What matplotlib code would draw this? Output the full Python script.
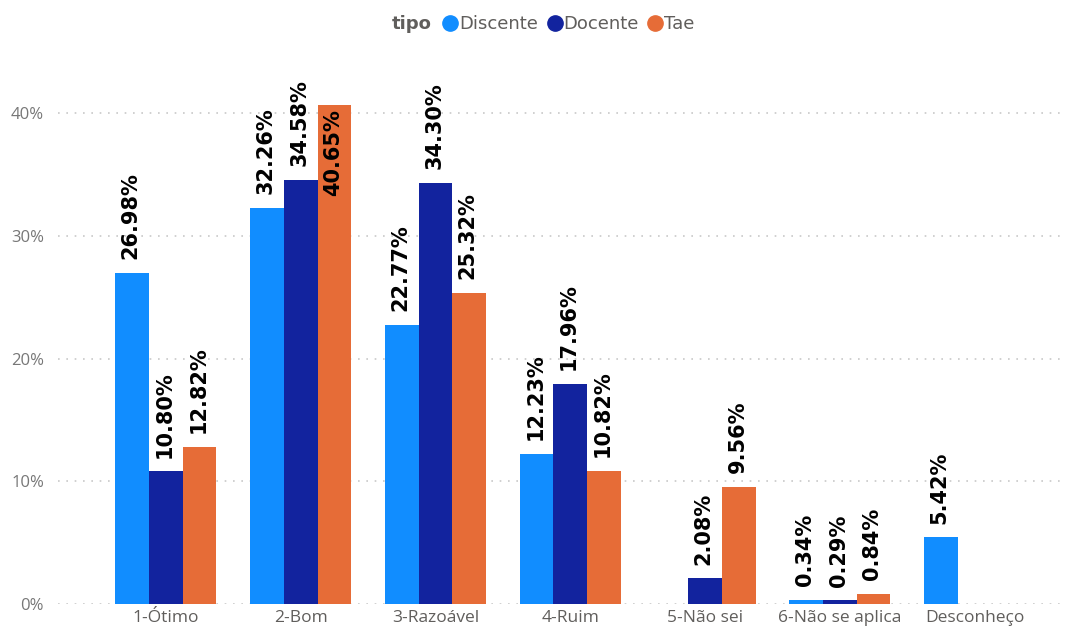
import matplotlib
matplotlib.use("Agg")
import matplotlib.pyplot as plt
from matplotlib.lines import Line2D
from matplotlib.offsetbox import HPacker
import numpy as np

categories = ["1-Ótimo", "2-Bom", "3-Razoável", "4-Ruim", "5-Não sei", "6-Não se aplica", "Desconheço"]
series_names = ["Discente", "Docente", "Tae"]
discente = [26.98, 32.26, 22.77, 12.23, None, 0.34, 5.42]
docente = [10.80, 34.58, 34.30, 17.96, 2.08, 0.29, None]
tae = [12.82, 40.65, 25.32, 10.82, 9.56, 0.84, None]
yticks = [0, 10, 20, 30, 40]
colors = ["#118DFF", "#12239E", "#E66C37"]

plt.rcParams['font.family'] = ['Open Sans', 'DejaVu Sans']

fig = plt.figure(figsize=(10.68, 6.32), dpi=100)
ax = fig.add_axes([58/1068, 28/632, (1065-58)/1068, (604-64)/632])

x = np.arange(len(categories))
w = 0.25
ymax = 44
for i, (vals, c) in enumerate(zip([discente, docente, tae], colors)):
    for j, v in enumerate(vals):
        if v is None:
            continue
        xpos = x[j] + (i - 1) * w
        ax.bar(xpos, v, width=w, color=c, edgecolor="none", zorder=2)
        label = f"{v:.2f}%"
        kw = dict(rotation=90, ha="center", fontsize=15, fontweight="bold",
                  family="DejaVu Sans", color="#000000", zorder=3,
                  textcoords="offset points")
        if v > 38:
            ax.annotate(label, (xpos - 0.01, v), xytext=(0, -3), va="top", **kw)
        else:
            ax.annotate(label, (xpos - 0.01, v), xytext=(0, 10), va="bottom", **kw)

ax.set_xlim(-0.8, 6.67)
ax.set_ylim(0, ymax)
ax.set_yticks(yticks)
ax.set_yticklabels([f"{t}%" for t in yticks])
ax.set_xticks(x)
ax.set_xticklabels(categories)
ax.tick_params(axis="y", length=0, labelsize=12, labelcolor="#777777", pad=10)
ax.tick_params(axis="x", length=0, labelsize=12.5, labelcolor="#605E5C", pad=4)
for s in ax.spines.values():
    s.set_visible(False)
ax.yaxis.grid(True, linestyle=(0, (1, 4)), color="#C8C8C8", linewidth=1.2, zorder=0)
ax.set_axisbelow(True)

handles = [Line2D([0], [0], marker="o", linestyle="none", markersize=11,
                  markerfacecolor=c, markeredgecolor=c) for c in colors]
leg = fig.legend(handles, series_names, loc="center", bbox_to_anchor=(543/1068, 1 - 24/632),
                 ncol=3, frameon=False, handletextpad=-0.1, columnspacing=0.3,
                 handlelength=1.2, prop={"family": "DejaVu Sans", "size": 13},
                 title="tipo", title_fontproperties={"weight": "bold", "size": 13,
                                                     "family": "DejaVu Sans"})
title = leg.get_title()
hp = HPacker(children=[leg._legend_title_box, leg._legend_handle_box], align="center", pad=0, sep=6)
leg._legend_box._children = [hp]
for t in leg.get_texts():
    t.set_color("#605E5C")
title.set_color("#605E5C")

fig.savefig("out.png", dpi=100)
